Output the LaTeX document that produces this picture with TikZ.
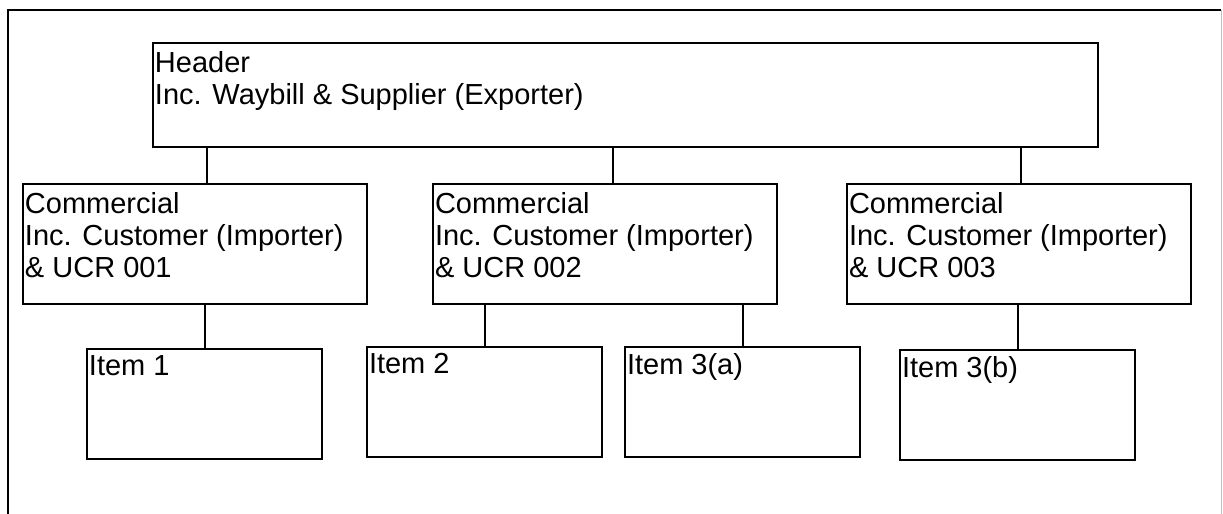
\documentclass[tikz,border=0pt]{standalone}
\usepackage{fontspec}
\setmainfont{Liberation Sans}
\begin{document}
\begin{tikzpicture}
    [x=0.5pt, y=-0.5pt, line width=1pt,
     box/.style={draw, rectangle, inner sep=0pt, anchor=north west},
     headbox/.style={box, minimum width=472.5pt, minimum height=52pt},
     combox/.style={box, minimum width=172pt, minimum height=60pt},
     itembox/.style={box, minimum width=117.5pt, minimum height=55pt},
     boxtext/.style={anchor=north west, align=left, inner sep=0pt, xshift=1pt, yshift=-4.3pt,
                     font=\fontsize{14.5}{16}\selectfont}]
    \useasboundingbox (0,0) rectangle (1223,514);
    % outer frame
    \draw (8,514) -- (8,10) -- (1221,10);
    \draw[black!25, line width=0.5pt] (1221,10) -- (1221,514);
    % boxes
    \node[headbox, label={[boxtext]north west:Header\\Inc. Waybill \& Supplier (Exporter)}] (hdr) at (152,42) {};
    \node[combox, label={[boxtext]north west:Commercial\\Inc. Customer (Importer)\\\& UCR 001}] (com1) at (22,183) {};
    \node[combox, label={[boxtext]north west:Commercial\\Inc. Customer (Importer)\\\& UCR 002}] (com2) at (432,183) {};
    \node[combox, label={[boxtext]north west:Commercial\\Inc. Customer (Importer)\\\& UCR 003}] (com3) at (846,183) {};
    \node[itembox, label={[boxtext, yshift=1pt]north west:Item 1}] (item1) at (86,348) {};
    \node[itembox, label={[boxtext, yshift=1pt]north west:Item 2}] (item2) at (366,346) {};
    \node[itembox, label={[boxtext, yshift=1pt]north west:Item 3(a)}] (item3a) at (624,346) {};
    \node[itembox, label={[boxtext, yshift=1pt]north west:Item 3(b)}] (item3b) at (899,349) {};
    % connectors
    \draw ([xshift=6pt]com1.north) -- ([xshift=6pt]com1.north |- hdr.south);
    \draw ([xshift=3.75pt]com2.north) -- ([xshift=3.75pt]com2.north |- hdr.south);
    \draw ([xshift=1pt]com3.north) -- ([xshift=1pt]com3.north |- hdr.south);
    \draw (item1.north) -- (item1.north |- com1.south);
    \draw (item2.north) -- (item2.north |- com2.south);
    \draw (item3a.north) -- (item3a.north |- com2.south);
    \draw (item3b.north) -- (item3b.north |- com3.south);
\end{tikzpicture}
\end{document}
